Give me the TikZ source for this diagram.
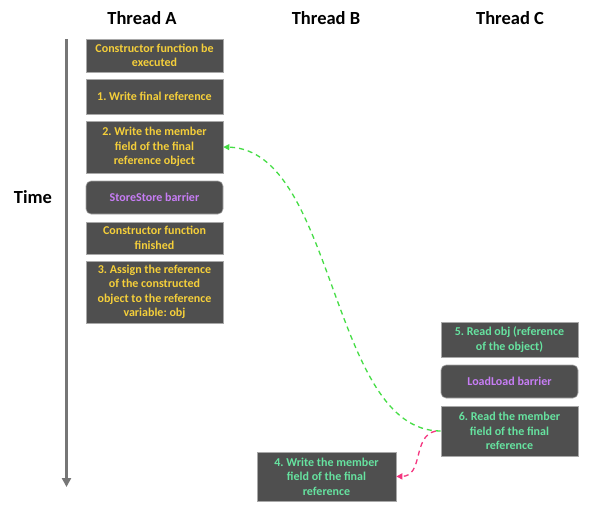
\documentclass[tikz,border=0pt]{standalone}
\usepackage{fontspec}
\setmainfont{Carlito}
\usetikzlibrary{arrows.meta}
\definecolor{boxfill}{HTML}{4F4F4F}
\definecolor{boxline}{HTML}{A8A8A8}
\definecolor{ytext}{HTML}{F5CF3A}
\definecolor{ptext}{HTML}{C77DF5}
\definecolor{gtext}{HTML}{66E3A0}
\definecolor{garrow}{HTML}{45DD45}
\definecolor{parrow}{HTML}{F5357F}
\definecolor{timeline}{HTML}{767676}
\tikzset{
  opbox/.style={draw=boxline, line width=0.6pt, fill=boxfill, align=center,
    inner sep=0pt, font=\fontsize{12}{14.5}\selectfont\bfseries\frenchspacing},
  widA/.style={minimum width=137pt},
  widB/.style={minimum width=139pt},
  barrier/.style={opbox, rounded corners=5pt, text=ptext},
  header/.style={font=\fontsize{18.5}{20}\selectfont\bfseries, text=black},
  greenlink/.style={draw=garrow, line width=1.3pt, dash pattern=on 5pt off 4pt, -{Triangle[length=6pt,width=6pt]}},
  pinklink/.style={draw=parrow, line width=1.3pt, dash pattern=on 5pt off 4pt, -{Triangle[length=6pt,width=6pt]}}
}
\begin{document}
\begin{tikzpicture}[x=1pt,y=-1pt]
\useasboundingbox (0,0) rectangle (601,507);
\fill[white] (0,0) rectangle (601,507);
% headers
\node[header] (hA) at (142,18) {Thread A};
\node[header] (hB) at (326,18) {Thread B};
\node[header] (hC) at (510,18) {Thread C};
\node[header] (time) at (33,197) {Time};
% time axis
\coordinate (tstart) at (66.5,39);
\coordinate (tend) at (66.5,487);
\draw[timeline, line width=2.6pt, -{Triangle[length=9pt,width=9pt]}] (tstart) -- (tend);
% thread A
\node[opbox, widA, text=ytext, minimum height=33pt] (a1) at (154.5,55.5) {Constructor function be\\executed};
\node[opbox, widA, text=ytext, minimum height=35pt] (a2) at (154.5,96.5) {1. Write final reference};
\node[opbox, widA, text=ytext, minimum height=52pt] (a3) at (154.5,147) {2. Write the member\\field of the final\\reference object};
\node[barrier, widA, minimum height=33pt] (a4) at (154.5,197.5) {StoreStore barrier};
\node[opbox, widA, text=ytext, minimum height=32pt] (a5) at (154.5,238) {Constructor function\\finished};
\node[opbox, widA, text=ytext, minimum height=62pt] (a6) at (154.5,292) {3. Assign the reference\\of the constructed\\object to the reference\\variable: obj};
% thread C
\node[opbox, widA, text=gtext, minimum height=35pt] (c1) at (509.5,339.5) {5. Read obj (reference\\of the object)};
\node[barrier, widA, minimum height=33pt] (c2) at (509.5,381.5) {LoadLoad barrier};
\node[opbox, widA, text=gtext, minimum height=50pt] (c3) at (509.5,431) {6. Read the member\\field of the final\\reference};
% thread B
\node[opbox, widB, text=gtext, minimum height=49pt] (b1) at (326.5,476.5) {4. Write the member\\field of the final\\reference};
% links
\draw[greenlink] (c3.west) .. controls (330,431) and (336,150) .. (a3.east);
\draw[pinklink] ([xshift=-5pt]c3.west) .. controls (412,436) and (424,476) .. (b1.east);
\end{tikzpicture}
\end{document}
